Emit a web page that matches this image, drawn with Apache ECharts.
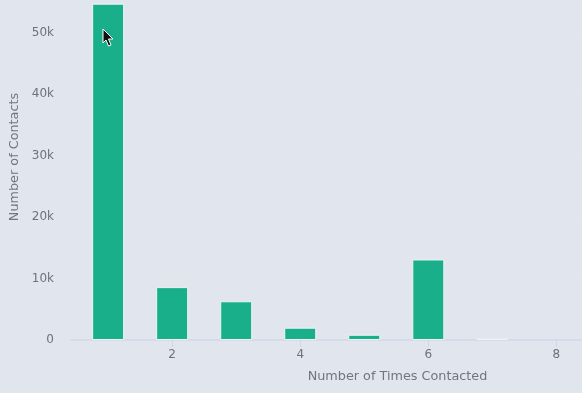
<!DOCTYPE html>
<html>
<head>
<meta charset="utf-8">
<style>
  html, body { margin: 0; padding: 0; background: #e1e5ee; }
  #chart { width: 582px; height: 393px; }
</style>
<script src="https://cdn.jsdelivr.net/npm/echarts@6/dist/echarts.min.js"></script>
</head>
<body>
<div id="chart"></div>
<script>
var timesContacted = [1, 2, 3, 4, 5, 6, 7];
var contactCounts = [54700, 8600, 6300, 2000, 850, 13100, 300];
var xTickValues = [2, 4, 6, 8];
var yTickStep = 10000;

var chart = echarts.init(document.getElementById('chart'));

var option = {
    backgroundColor: '#e1e5ee',
    animation: false,
    textStyle: { fontFamily: 'DejaVu Sans' },
    grid: { left: 71, right: 0, top: 0, height: 340, outerBoundsMode: 'none', containLabel: false },
    xAxis: {
        type: 'value',
        min: 0.42,
        max: 8.4,
        name: 'Number of Times Contacted',
        nameLocation: 'middle',
        nameGap: 30,
        nameTextStyle: { color: '#72757f', fontSize: 12.8, padding: [0, 0, 0, 142] },
        splitLine: { show: false },
        axisLine: { show: true, lineStyle: { color: '#d4dcec', width: 2 } },
        axisTick: { show: true, length: 7, lineStyle: { color: '#cdd6ea' }, customValues: xTickValues },
        axisLabel: { color: '#6e717b', fontSize: 12, margin: 9, customValues: xTickValues }
    },
    yAxis: {
        type: 'value',
        min: 0,
        max: 55300,
        interval: yTickStep,
        name: 'Number of Contacts',
        nameLocation: 'middle',
        nameGap: 44,
        nameTextStyle: { color: '#72757f', fontSize: 12.8, padding: [0, 0, 0, 26] },
        axisLine: { show: false },
        axisTick: { show: false },
        splitLine: { showMaxLine: false, lineStyle: { color: '#e5e6ec', width: 1 } },
        axisLabel: {
            color: '#6e717b',
            fontSize: 12,
            margin: 17,
            showMaxLabel: false,
            formatter: function (v) { return v === 0 ? '0' : (v / 1000) + 'k'; }
        }
    },
    series: [{
        type: 'bar',
        barWidth: 32,
        data: timesContacted.map(function (t, i) { return [t, contactCounts[i]]; }),
        itemStyle: { color: '#1aaf8b', borderColor: '#eef3f6', borderWidth: 1 }
    }],
    graphic: [{
        type: 'polygon',
        silent: true,
        z: 100,
        shape: { points: [[103, 29], [103, 43], [106, 40], [108.5, 46], [111, 45], [108.5, 39], [113, 39]] },
        style: { fill: '#111', stroke: '#fff', lineWidth: 1 }
    }]
};

chart.setOption(option);
window.addEventListener('resize', function () {
    chart.resize();
});
</script>
</body>
</html>
